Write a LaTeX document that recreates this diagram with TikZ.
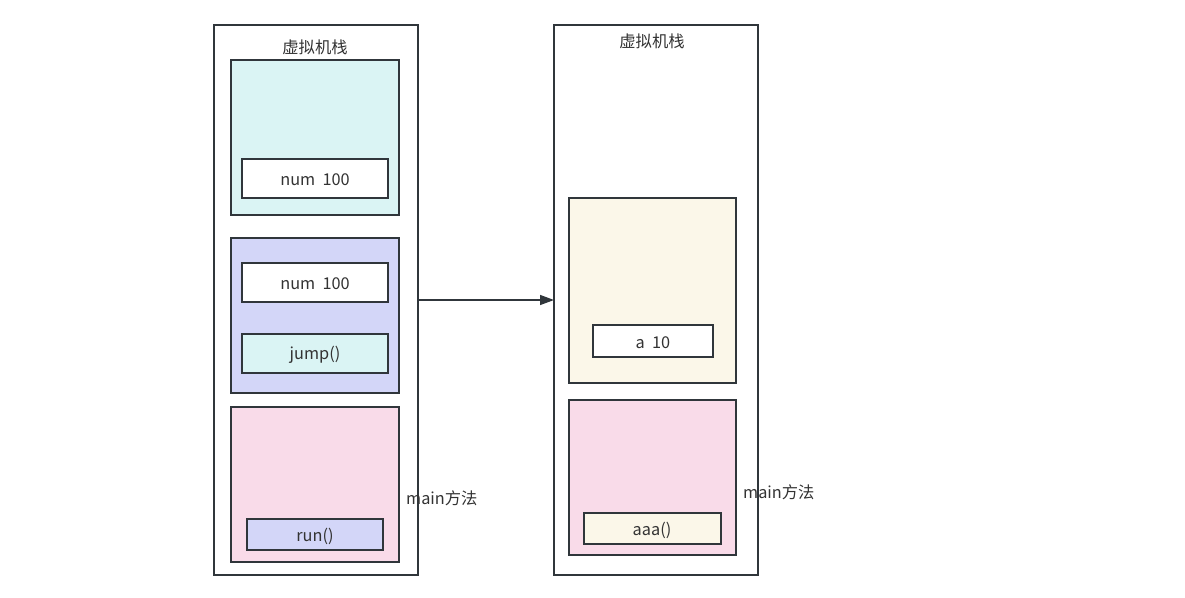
\documentclass[tikz,border=0pt]{standalone}
\usepackage{fontspec}
\setmainfont{Noto Sans CJK SC}
\usetikzlibrary{arrows.meta}
\definecolor{strk}{HTML}{30363B}
\definecolor{cyanf}{HTML}{DAF4F4}
\definecolor{purpf}{HTML}{D3D6F8}
\definecolor{pinkf}{HTML}{F9DBE9}
\definecolor{creamf}{HTML}{FBF7E9}
\definecolor{txt}{HTML}{333333}
\begin{document}
\begin{tikzpicture}[x=1pt,y=-1pt,
  box/.style={draw=strk,line width=1.4pt},
  lbl/.style={font=\fontsize{16.3}{18}\selectfont,text=txt,inner sep=0pt}]
\useasboundingbox (0,0) rectangle (1185,597);
% left stack
\draw[box,fill=white] (214,25) rectangle (418,575);
\node[lbl] (t1) at (315,47) {虚拟机栈};
\draw[box,fill=cyanf] (231,60) rectangle (399,215);
\draw[box,fill=white] (242,159) rectangle (388,198);
\node[lbl] (n1) at (315,180) {num\ \ 100};
\draw[box,fill=purpf] (231,238) rectangle (399,393);
\draw[box,fill=white] (242,263) rectangle (388,302);
\node[lbl] (n2) at (315,284) {num\ \ 100};
\draw[box,fill=cyanf] (242,334) rectangle (388,373);
\node[lbl] (j) at (315,355) {jump()};
\draw[box,fill=pinkf] (231,407) rectangle (399,562);
\draw[box,fill=purpf] (247,519) rectangle (383,550);
\node[lbl] (r) at (315,536) {run()};
\node[lbl,anchor=west] (m1) at (406,498) {main方法};
% right stack
\draw[box,fill=white] (554,25) rectangle (758,575);
\node[lbl] (t2) at (652,41) {虚拟机栈};
\draw[box,fill=creamf] (569,198) rectangle (736,383);
\draw[box,fill=white] (593,325) rectangle (713,357);
\node[lbl] (a) at (653,343) {a\ \ 10};
\draw[box,fill=pinkf] (569,400) rectangle (736,555);
\draw[box,fill=creamf] (584,513) rectangle (721,544);
\node[lbl] (aaa) at (652,530) {aaa()};
\node[lbl,anchor=west] (m2) at (743,492) {main方法};
% arrow
\coordinate (s) at (418,300);
\coordinate (e) at (554,300);
\draw[strk,line width=1.4pt,-{Triangle[length=14pt,width=10pt]}] (s) -- (e);
\end{tikzpicture}
\end{document}
